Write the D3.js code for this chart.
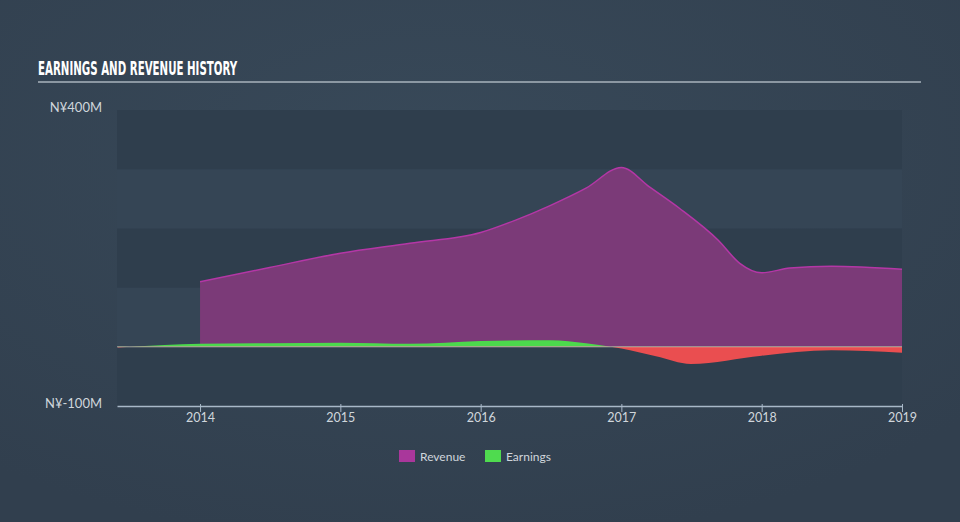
<!DOCTYPE html>
<html>
<head>
<meta charset="utf-8">
<script src="https://cdn.jsdelivr.net/npm/d3@7"></script>
<style>
  html, body { margin: 0; padding: 0; background: #344454; }
  svg { display: block; }
</style>
</head>
<body>
<div id="chart"></div>
<script>
// revenue history (millions)
const revenueDates = ['2014-01-01', '2014-07-01', '2015-01-01', '2015-07-01', '2016-01-01', '2016-04-01', '2016-07-01', '2016-10-01',
  '2017-01-01', '2017-03-15', '2017-06-01', '2017-09-10', '2017-11-05', '2018-01-01', '2018-03-15', '2018-07-01', '2019-01-01'];
const revenueValues = [110, 134, 158, 175, 193, 214, 239, 268, 303, 270, 234, 180, 141, 125, 133, 136, 131];

// earnings history (millions)
const earningsDates = ['2013-06-01', '2013-10-01', '2014-01-01', '2014-07-01', '2015-01-01', '2015-07-01', '2016-01-01', '2016-07-01',
  '2016-10-01', '2017-01-01', '2017-04-01', '2017-07-01', '2018-01-01', '2018-07-01', '2019-01-01'];
const earningsValues = [-1, 3, 5, 6, 7, 5, 10, 11, 6, -3, -16, -29, -15, -6, -10];

const yTicks = [400, -100];
const yearTicks = [2014, 2015, 2016, 2017, 2018, 2019];
const legendItems = ['Revenue', 'Earnings'];

const width = 960, height = 522;
const margin = { top: 110, right: 58, bottom: 116, left: 117 };
const innerWidth = width - margin.left - margin.right;
const innerHeight = height - margin.top - margin.bottom;
const labelFont = 'Lato, "Open Sans", sans-serif';

const parse = d3.timeParse('%Y-%m-%d');
const revenue = revenueDates.map((d, i) => ({ date: parse(d), value: revenueValues[i] }));
const earnings = earningsDates.map((d, i) => ({ date: parse(d), value: earningsValues[i] }));

const svg = d3.select('#chart').append('svg').attr('width', width).attr('height', height);
const defs = svg.append('defs');

// soft background glow
const grad = defs.append('radialGradient').attr('id', 'bg').attr('cx', '45%').attr('cy', '30%').attr('r', '75%');
grad.append('stop').attr('offset', '0%').attr('stop-color', '#384959');
grad.append('stop').attr('offset', '100%').attr('stop-color', '#313f4e');
svg.append('rect').attr('width', width).attr('height', height).attr('fill', 'url(#bg)');

// title (condensed)
svg.append('text')
  .attr('x', 0).attr('y', 0)
  .attr('fill', '#ffffff')
  .style('font-family', '"DejaVu Sans Condensed", "Liberation Sans Narrow", sans-serif')
  .style('font-weight', 'bold')
  .style('font-size', '19px')
  .attr('transform', 'translate(38,75) scale(0.6,1)')
  .text('EARNINGS AND REVENUE HISTORY');
svg.append('line')
  .attr('x1', 38).attr('x2', 921).attr('y1', 82).attr('y2', 82)
  .attr('stroke', '#a9b3bd').attr('stroke-width', 1.5);

const x = d3.scaleTime()
  .domain([parse('2013-05-30'), parse('2019-01-01')])
  .range([0, innerWidth]);
const y = d3.scaleLinear().domain([-100, 400]).range([innerHeight, 0]);

const g = svg.append('g').attr('transform', `translate(${margin.left},${margin.top})`);

// alternating bands
const bands = d3.range(-100, 400, 100);
g.selectAll('rect.band').data(bands).join('rect')
  .attr('class', 'band')
  .attr('x', 0).attr('width', innerWidth)
  .attr('y', d => y(d + 100)).attr('height', d => y(d) - y(d + 100))
  .attr('fill', (d, i) => i % 2 === 0 ? '#2f3e4d' : '#354555');

// revenue
const revArea = d3.area().x(d => x(d.date)).y0(y(0)).y1(d => y(d.value)).curve(d3.curveMonotoneX);
const revLine = d3.line().x(d => x(d.date)).y(d => y(d.value)).curve(d3.curveMonotoneX);
g.append('path').datum(revenue).attr('d', revArea).attr('fill', '#7b3a78');
g.append('path').datum(revenue).attr('d', revLine).attr('fill', 'none').attr('stroke', '#b437a6').attr('stroke-width', 1.5);

// earnings, split at zero
defs.append('clipPath').attr('id', 'above').append('rect')
  .attr('x', 0).attr('y', 0).attr('width', innerWidth).attr('height', y(0));
defs.append('clipPath').attr('id', 'below').append('rect')
  .attr('x', 0).attr('y', y(0)).attr('width', innerWidth).attr('height', innerHeight - y(0));
const earnArea = d3.area().x(d => x(d.date)).y0(y(0)).y1(d => y(d.value)).curve(d3.curveMonotoneX);
g.append('path').datum(earnings).attr('d', earnArea).attr('fill', '#4cd94c').attr('clip-path', 'url(#above)');
g.append('path').datum(earnings).attr('d', earnArea).attr('fill', '#ea4e50').attr('clip-path', 'url(#below)');

// zero line
g.append('line').attr('x1', 0).attr('x2', innerWidth).attr('y1', y(0)).attr('y2', y(0))
  .attr('stroke', '#d8cfc0').attr('stroke-opacity', 0.7).attr('stroke-width', 1);

// x axis
const xAxis = d3.axisBottom(x)
  .tickValues(yearTicks.map(yr => new Date(yr, 0, 1)))
  .tickFormat(d3.timeFormat('%Y'))
  .tickSize(6).tickSizeOuter(0);
const ax = g.append('g').attr('transform', `translate(0,${innerHeight})`).call(xAxis);
ax.select('.domain').attr('stroke', '#a8b8c8').attr('stroke-width', 1.5);
ax.selectAll('.tick line').attr('stroke', '#a8b8c8').attr('y1', -2);
ax.selectAll('.tick text').attr('fill', '#d0d6dc').attr('dy', '0.55em')
  .style('font-family', labelFont).style('font-size', '12.5px');

// y labels
svg.append('g')
  .selectAll('text').data(yTicks).join('text')
  .attr('x', 102).attr('y', d => margin.top + y(d) + 2)
  .attr('text-anchor', 'end')
  .attr('fill', '#d0d6dc')
  .style('font-family', labelFont).style('font-size', '13px')
  .text(d => `N¥${d}M`);

// legend
const legendColors = d3.scaleOrdinal(legendItems, ['#a9379b', '#4fdb4f']);
const legend = svg.append('g').attr('transform', 'translate(399,450)');
const li = legend.selectAll('g').data(legendItems).join('g')
  .attr('transform', (d, i) => `translate(${i * 86},0)`);
li.append('rect').attr('width', 16).attr('height', 12).attr('fill', d => legendColors(d));
li.append('text').attr('x', 21).attr('y', 10.5)
  .attr('fill', '#d0d6dc')
  .style('font-family', labelFont).style('font-size', '12px')
  .text(d => d);
</script>
</body>
</html>
